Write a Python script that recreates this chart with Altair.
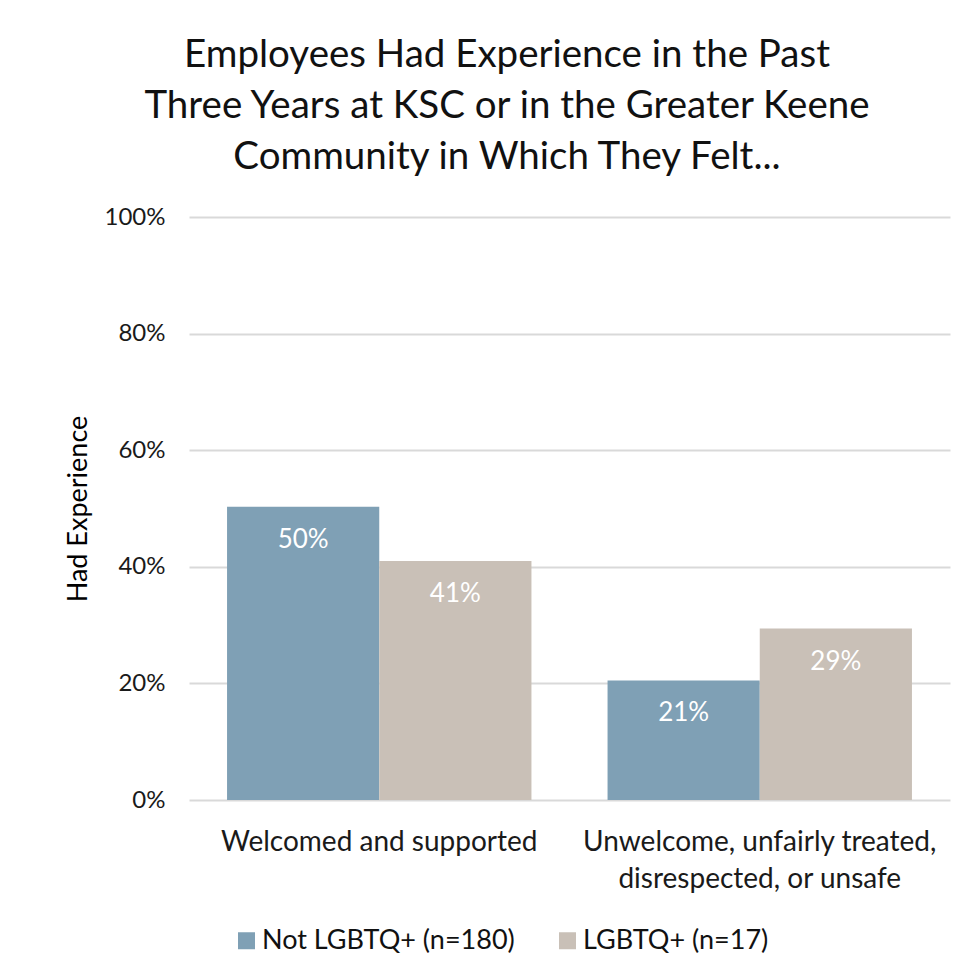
import altair as alt
import pandas as pd

categories = ["Welcomed and supported", "Unwelcome, unfairly treated,\ndisrespected, or unsafe"]
series = ["Not LGBTQ+ (n=180)", "LGBTQ+ (n=17)"]
not_lgbtq = [0.503, 0.205]
lgbtq = [0.410, 0.294]
not_lgbtq_labels = ["50%", "21%"]
lgbtq_labels = ["41%", "29%"]
colors = ["#7fa0b5", "#c9c0b7"]

rows = []
for i, c in enumerate(categories):
    rows.append({"category": c, "group": series[0], "value": not_lgbtq[i], "label": not_lgbtq_labels[i]})
    rows.append({"category": c, "group": series[1], "value": lgbtq[i], "label": lgbtq_labels[i]})
df = pd.DataFrame(rows)

FONT = "Lato"

x = alt.X("category:N", sort=categories,
          scale=alt.Scale(paddingInner=0.2, paddingOuter=0.1),
          axis=alt.Axis(title=None, labelAngle=0, labelExpr="split(datum.label, '\\n')",
                        labelFontSize=28, labelLineHeight=37, labelPadding=28, labelLimit=0,
                        labelColor="#1a1a1a", domain=False, ticks=False, labelFont=FONT))
xo = alt.XOffset("group:N", sort=series)
y = alt.Y("value:Q", scale=alt.Scale(domain=[0, 1]),
          axis=alt.Axis(title="Had Experience", format=".0%", values=[0, 0.2, 0.4, 0.6, 0.8, 1.0],
                        grid=True, domain=False, ticks=False, labelPadding=24,
                        labelFontSize=24, labelColor="#1a1a1a", labelFont=FONT,
                        titleFontSize=27, titleFontWeight="normal", titleColor="#000000",
                        titleFont=FONT, titlePadding=12))

bars = alt.Chart(df).mark_bar().encode(
    x=x, xOffset=xo, y=y,
    color=alt.Color("group:N", sort=series, scale=alt.Scale(domain=series, range=colors),
                    legend=alt.Legend(title=None, orient="none", legendX=44, legendY=710,
                                      direction="horizontal", symbolType="square",
                                      symbolSize=289, symbolStrokeWidth=0, labelFontSize=27,
                                      labelFont=FONT, labelColor="#111111", columnPadding=39,
                                      labelOffset=2, labelLimit=0)),
)

text = alt.Chart(df).mark_text(dy=33, color="white", fontSize=26, font=FONT).encode(
    x=x, xOffset=xo, y=y, text="label:N"
)

chart = (bars + text).properties(
    width=761, height=583,
    padding={"left": 181, "top": 209, "right": 15, "bottom": 160},
    autosize=alt.AutoSizeParams(type="none"),
    title=alt.TitleParams(
        text=["Employees Had Experience in the Past",
              "Three Years at KSC or in the Greater Keene",
              "Community in Which They Felt..."],
        fontSize=38.5, font=FONT, fontWeight="normal", color="#111111",
        anchor="middle", lineHeight=51, offset=28, frame="bounds"),
).configure_view(stroke=None).configure_axis(gridColor="#d9d9d9", gridWidth=2)

chart.save("out.html", embed_options={"renderer": "svg", "actions": False})
